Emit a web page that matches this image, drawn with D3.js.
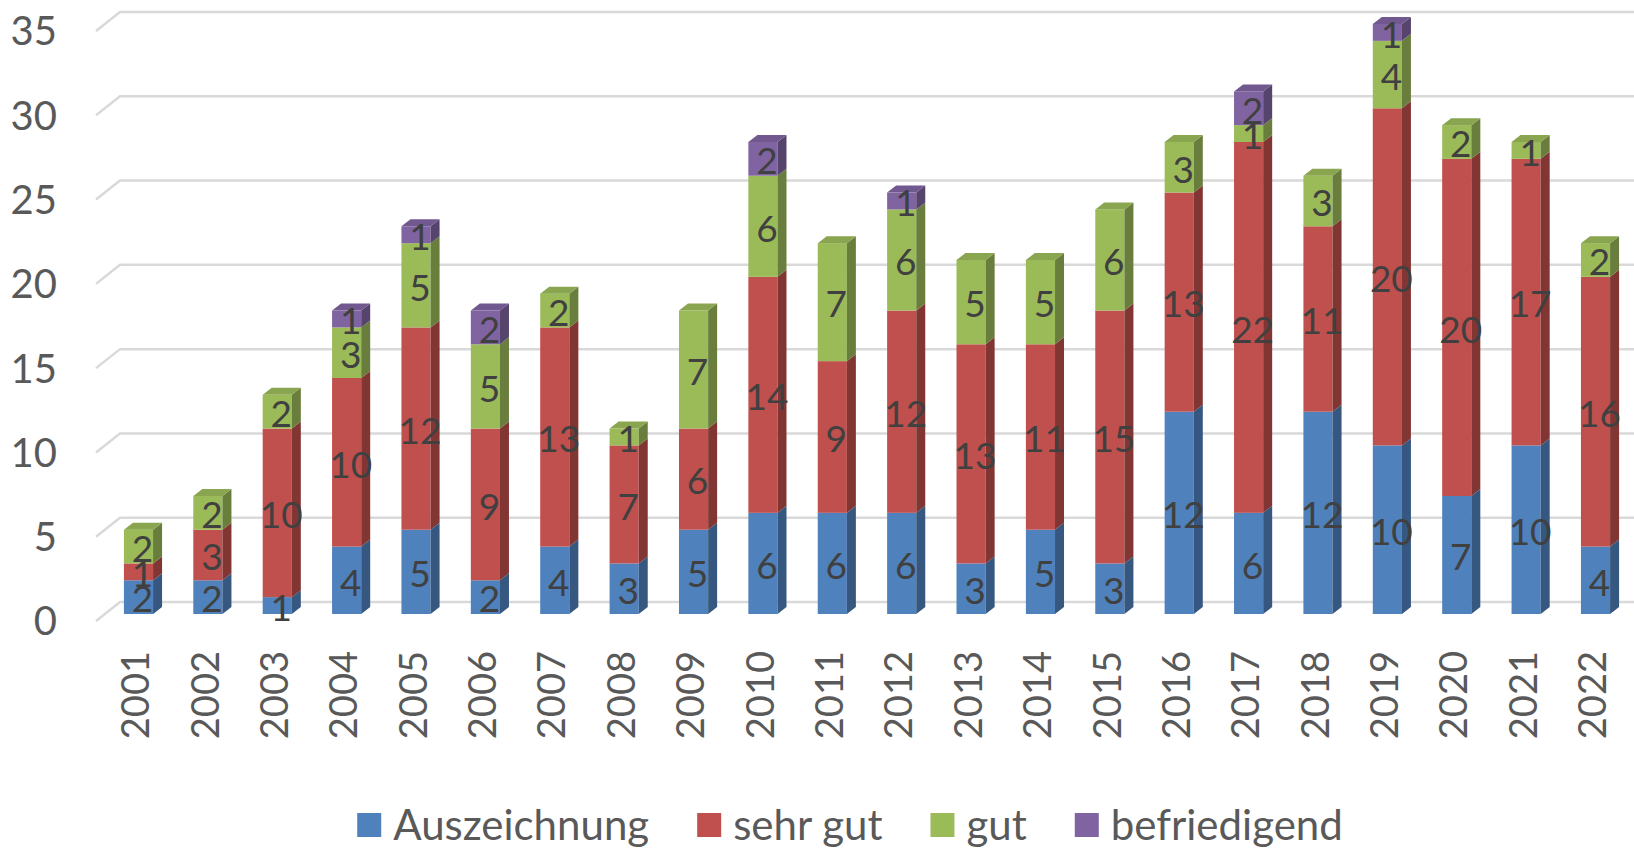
<!DOCTYPE html>
<html>
<head>
<meta charset="utf-8">
<script src="https://cdn.jsdelivr.net/npm/d3@7"></script>
<style>
  html, body { margin: 0; padding: 0; background: #fff; }
  svg { display: block; }
  text { font-family: Lato, "Open Sans", sans-serif; }
</style>
</head>
<body>
<svg id="chart" width="1634" height="848"></svg>
<script>
const years = ['2001','2002','2003','2004','2005','2006','2007','2008','2009','2010','2011',
               '2012','2013','2014','2015','2016','2017','2018','2019','2020','2021','2022'];
const auszeichnung = [2,2,1,4,5,2,4,3,5,6,6,6,3,5,3,12,6,12,10,7,10,4];
const sehrGut      = [1,3,10,10,12,9,13,7,6,14,9,12,13,11,15,13,22,11,20,20,17,16];
const gut          = [2,2,2,3,5,5,2,1,7,6,7,6,5,5,6,3,1,3,4,2,1,2];
const befriedigend = [0,0,0,1,1,2,0,0,0,2,0,1,0,0,0,0,2,0,1,0,0,0];
const seriesNames  = ['Auszeichnung','sehr gut','gut','befriedigend'];
const seriesColors = ['#4F81BD','#C0504D','#9BBB59','#8064A2'];
const yTicks       = [0,5,10,15,20,25,30,35];

const svg = d3.select('#chart');
const W = 1634;

// scales
const y = d3.scaleLinear().domain([0, 35]).range([614, 24]);
const x = d3.scaleBand().domain(years).range([103.8, 1630.2]).paddingInner(0.58).paddingOuter(0.29);

// 3D offsets
const wallBack = -12, wallFront = 7;
const bdx = 9, bdy = 7;

// gridlines
const grid = svg.append('g');
yTicks.forEach(v => {
  const yb = y(v) + wallBack;
  const yf = y(v) + wallFront;
  grid.append('path')
    .attr('d', `M96,${yf} L120,${yb} L${W},${yb}`)
    .attr('fill', 'none')
    .attr('stroke', '#D9D9D9')
    .attr('stroke-width', 2.5);
});

// y axis labels
svg.append('g').selectAll('text').data(yTicks).join('text')
  .attr('x', 57)
  .attr('y', d => y(d) + wallFront)
  .attr('dy', '0.36em')
  .attr('text-anchor', 'end')
  .attr('font-size', 40)
  .attr('fill', '#595959')
  .text(d => d);

// stacked data
const table = years.map((yr, i) => ({
  year: yr,
  'Auszeichnung': auszeichnung[i],
  'sehr gut': sehrGut[i],
  'gut': gut[i],
  'befriedigend': befriedigend[i]
}));
const stack = d3.stack().keys(seriesNames)(table);

const bw = x.bandwidth();
const bars = svg.append('g');
years.forEach((yr, i) => {
  const g = bars.append('g');
  const x0 = x(yr), x1 = x0 + bw;
  let topIdx = -1;
  stack.forEach((s, k) => { if (s[i][1] - s[i][0] > 0) topIdx = k; });
  stack.forEach((s, k) => {
    const v0 = s[i][0], v1 = s[i][1];
    if (v1 - v0 <= 0) return;
    const c = d3.color(seriesColors[k]);
    const yb = y(v0), yt = y(v1);
    g.append('rect').attr('x', x0).attr('y', yt).attr('width', bw).attr('height', yb - yt)
      .attr('fill', c.formatHex());
    g.append('path')
      .attr('d', `M${x1},${yb} L${x1 + bdx},${yb - bdy} L${x1 + bdx},${yt - bdy} L${x1},${yt} Z`)
      .attr('fill', c.darker(1.1).formatHex());
    if (k === topIdx) {
      g.append('path')
        .attr('d', `M${x0},${yt} L${x0 + bdx},${yt - bdy} L${x1 + bdx},${yt - bdy} L${x1},${yt} Z`)
        .attr('fill', c.darker(0.35).formatHex());
    }
  });
  stack.forEach((s, k) => {
    const v0 = s[i][0], v1 = s[i][1];
    const val = v1 - v0;
    if (val <= 0) return;
    g.append('text')
      .attr('x', x0 + bw / 2 + 4)
      .attr('y', (y(v0) + y(v1)) / 2 + 2)
      .attr('dy', '0.36em')
      .attr('text-anchor', 'middle')
      .attr('font-size', 37)
      .attr('fill', '#404040')
      .text(val);
  });
});

// x axis labels
svg.append('g').selectAll('text').data(years).join('text')
  .attr('transform', d => `translate(${x(d) + bw / 2 - 3},651) rotate(-90)`)
  .attr('dy', '0.36em')
  .attr('text-anchor', 'end')
  .attr('font-size', 38)
  .attr('fill', '#595959')
  .text(d => d);

// legend
const leg = svg.append('g');
const items = seriesNames.map((n, k) => {
  const g = leg.append('g');
  g.append('rect').attr('x', 0).attr('y', -12).attr('width', 24).attr('height', 24)
    .attr('fill', seriesColors[k]);
  const t = g.append('text').attr('x', 36).attr('y', 0).attr('dy', '0.36em')
    .attr('font-size', 42).attr('fill', '#595959').text(n);
  return { g, w: 36 + t.node().getComputedTextLength() };
});
const gap = 48;
const total = d3.sum(items, d => d.w) + gap * (items.length - 1);
let cx = 850 - total / 2;
items.forEach(it => {
  it.g.attr('transform', `translate(${cx},825)`);
  cx += it.w + gap;
});
</script>
</body>
</html>
